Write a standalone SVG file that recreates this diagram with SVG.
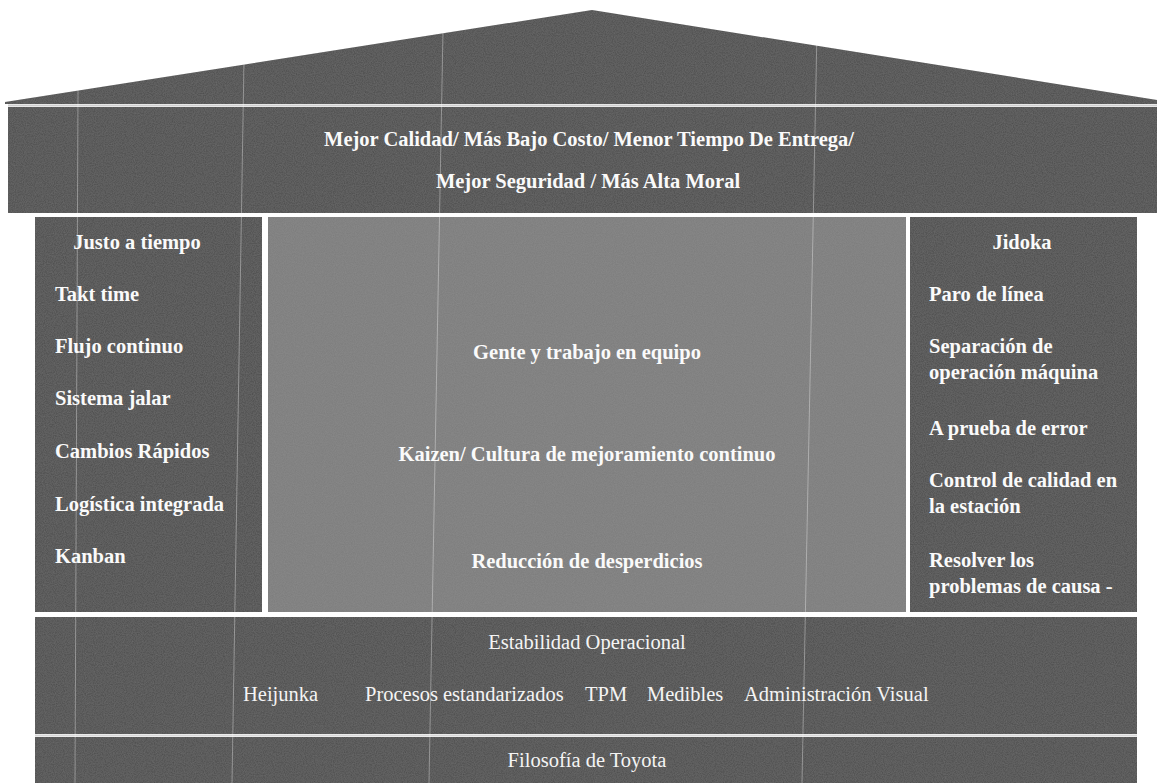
<svg xmlns="http://www.w3.org/2000/svg" width="1157" height="783" viewBox="0 0 1157 783">
<defs>
<filter id="grain" x="0" y="0" width="100%" height="100%">
<feTurbulence type="fractalNoise" baseFrequency="0.9" numOctaves="2" seed="3" result="n"/>
<feColorMatrix in="n" type="matrix" values="0 0 0 0 0.5  0 0 0 0 0.5  0 0 0 0 0.5  0 0 0 0.18 0" result="g"/>
<feComposite in="g" in2="SourceGraphic" operator="in" result="gc"/>
<feMerge><feMergeNode in="SourceGraphic"/><feMergeNode in="gc"/></feMerge>
</filter>
<style>
.dark{fill:#4b4b4b;filter:url(#grain)}
.mid{fill:#7b7b7b;filter:url(#grain)}
.b{font-family:"Liberation Serif","Times New Roman",serif;font-weight:bold;font-size:20.5px;fill:#fafafa}
.r{font-family:"Liberation Serif","Times New Roman",serif;font-size:20.5px;fill:#f4f4f4}
.c{text-anchor:middle}
.grid{stroke:#ffffff;stroke-opacity:0.35;stroke-width:1}
</style>
</defs>
<rect width="1157" height="783" fill="#ffffff"/>

<g id="roof">
<polygon class="dark" points="5,102 592,10 1157,100 1157,104 5,104"/>
</g>

<g id="goals">
<rect class="dark" x="8" y="107" width="1149" height="106"/>
<line x1="8" y1="105.5" x2="1157" y2="105.5" stroke="#cfcfcf" stroke-width="2"/>
<text class="b c" x="589" y="146">Mejor Calidad/ Más Bajo Costo/ Menor Tiempo De Entrega/</text>
<text class="b c" x="588" y="188">Mejor Seguridad / Más Alta Moral</text>
</g>

<g id="jit">
<rect class="dark" x="35" y="217" width="227" height="395"/>
<text class="b c" x="137" y="249">Justo a tiempo</text>
<text class="b" x="55" y="301">Takt time</text>
<text class="b" x="55" y="353">Flujo continuo</text>
<text class="b" x="55" y="405">Sistema jalar</text>
<text class="b" x="55" y="458">Cambios Rápidos</text>
<text class="b" x="55" y="511">Logística integrada</text>
<text class="b" x="55" y="563">Kanban</text>
</g>

<g id="center">
<rect class="mid" x="268" y="217" width="638" height="395"/>
<text class="b c" x="587" y="359">Gente y trabajo en equipo</text>
<text class="b c" x="587" y="461">Kaizen/ Cultura de mejoramiento continuo</text>
<text class="b c" x="587" y="568">Reducción de desperdicios</text>
</g>

<g id="jidoka">
<rect class="dark" x="910" y="217" width="227" height="395"/>
<text class="b c" x="1022" y="249">Jidoka</text>
<text class="b" x="929" y="301">Paro de línea</text>
<text class="b" x="929" y="353">Separación de</text>
<text class="b" x="929" y="379">operación máquina</text>
<text class="b" x="929" y="435">A prueba de error</text>
<text class="b" x="929" y="487">Control de calidad en</text>
<text class="b" x="929" y="513">la estación</text>
<text class="b" x="929" y="567">Resolver los</text>
<text class="b" x="929" y="593">problemas de causa -</text>
</g>

<g id="stability">
<rect class="dark" x="35" y="617" width="1102" height="117"/>
<text class="r c" x="587" y="649">Estabilidad Operacional</text>
<text class="r" x="243" y="701">Heijunka</text>
<text class="r" x="365" y="701">Procesos estandarizados</text>
<text class="r" x="585" y="701">TPM</text>
<text class="r" x="647" y="701">Medibles</text>
<text class="r" x="744" y="701">Administración Visual</text>
</g>

<g id="philosophy">
<rect class="dark" x="35" y="737" width="1102" height="46"/>
<line x1="35" y1="735.5" x2="1137" y2="735.5" stroke="#d8d8d8" stroke-width="2"/>
<text class="r c" x="587" y="767">Filosofía de Toyota</text>
</g>

<g id="connectors">
<line class="grid" x1="78" y1="90" x2="75" y2="783"/>
<line class="grid" x1="244" y1="60" x2="232" y2="783"/>
<line class="grid" x1="443" y1="30" x2="429" y2="783"/>
<line class="grid" x1="817" y1="30" x2="802" y2="783"/>
</g>
</svg>
